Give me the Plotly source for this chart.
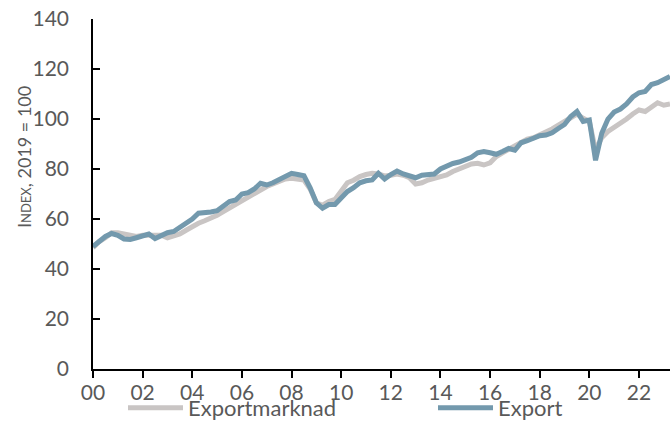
import plotly.graph_objects as go

# Quarterly data, 2000Q1 .. 2023Q2 (index, 2019 = 100)
start_year = 2000
quarters_per_year = 4

exportmarknad = [
    48.5, 51.0, 52.5, 54.5, 54.5, 54.0, 53.5, 53.0, 53.5, 53.5,
    53.5, 53.5, 52.5, 53.0, 54.0, 55.5, 57.0, 58.3, 59.3, 60.3,
    61.5, 63.0, 64.5, 65.5, 67.5, 69.0, 70.0, 71.5, 73.0, 74.0,
    75.0, 76.0, 76.3, 75.8, 75.6, 72.0, 66.5, 65.5, 67.0, 67.8,
    71.5, 74.5, 75.5, 77.0, 77.8, 78.3, 78.0, 77.2, 77.5, 78.0,
    77.5, 76.5, 74.0, 74.5, 75.6, 76.3, 77.2, 77.6, 79.0, 80.0,
    81.2, 82.0, 82.3, 81.6, 82.5, 85.0, 86.5, 88.0, 89.0, 90.5,
    92.0, 92.5, 93.5, 95.0, 96.0, 97.5, 99.0, 101.0, 102.0, 100.3,
    99.0, 87.5, 92.5, 95.0, 96.5, 98.0, 100.0, 102.0, 103.6, 103.0,
    105.0, 106.5, 105.5, 106.0,
]

export = [
    49.0, 51.0, 53.0, 54.2, 53.5, 52.0, 51.8, 52.5, 53.0, 54.0,
    52.2, 53.5, 54.5, 55.0, 56.5, 58.0, 60.0, 62.3, 62.3, 62.8,
    63.3, 65.0, 67.0, 67.6, 70.0, 70.5, 72.0, 74.3, 73.6, 74.5,
    75.8, 77.0, 78.3, 77.8, 77.3, 72.5, 66.5, 64.3, 65.8, 65.8,
    68.5, 71.0, 72.5, 74.5, 75.3, 75.6, 78.3, 76.0, 77.8, 79.2,
    78.0, 77.0, 76.5, 77.5, 78.0, 78.0, 80.0, 81.2, 82.2, 82.8,
    83.6, 84.7, 86.5, 87.0, 86.5, 85.9, 87.0, 88.2, 87.5, 90.5,
    91.3, 92.5, 93.3, 93.6, 94.5, 96.2, 97.8, 101.0, 103.0, 99.0,
    99.6, 83.5, 94.3, 100.0, 102.8, 104.0, 106.0, 108.8, 110.5, 111.0,
    113.8, 114.5, 115.8, 117.0,
]

x = [start_year + i / quarters_per_year for i in range(len(export))]

tick_years = list(range(2000, 2023, 2))
tick_labels = ["00", "02", "04", "06", "08", "10", "12", "14", "16", "18", "20", "22"]
y_ticks = [0, 20, 40, 60, 80, 100, 120, 140]

GRAY = "#c9c5c4"
BLUE = "#7399ad"
TEXT = "#595959"
FONT = "Lato, Liberation Sans, sans-serif"

# plot-area geometry (pixels)
L, R, T, B = 93, 0, 19, 60
W, H = 670, 429
pw, ph = W - L - R, H - T - B


def px_x(p):
    return (p - L) / pw


def px_y(p):
    return (H - B - p) / ph


fig = go.Figure()
fig.add_trace(go.Scatter(x=x, y=exportmarknad, mode="lines", name="Exportmarknad",
                         line=dict(color=GRAY, width=5), legend="legend"))
fig.add_trace(go.Scatter(x=x, y=export, mode="lines", name="Export",
                         line=dict(color=BLUE, width=5), legend="legend2"))

legend_common = dict(orientation="h", xanchor="left", yanchor="bottom",
                     itemwidth=55,
                     font=dict(family=FONT, size=22, color=TEXT),
                     bgcolor="rgba(0,0,0,0)", itemclick=False,
                     itemdoubleclick=False)

fig.update_layout(
    width=W, height=H,
    margin=dict(l=L, r=R, t=T, b=B),
    paper_bgcolor="white", plot_bgcolor="white",
    font=dict(family=FONT, size=21, color=TEXT),
    showlegend=True,
    legend=dict(x=px_x(123), y=px_y(429), **legend_common),
    legend2=dict(x=px_x(433), y=px_y(429), **legend_common),
    xaxis=dict(range=[2000, x[-1]], tickvals=tick_years, ticktext=tick_labels,
               showgrid=False, zeroline=False, showline=True, linecolor="black",
               linewidth=1.5, ticks="outside", ticklen=7, tickcolor="black",
               tickwidth=1.5, ticklabelstandoff=-3,
               tickfont=dict(family=FONT, size=21, color=TEXT)),
    yaxis=dict(range=[0, 140], tickvals=y_ticks, showgrid=False, zeroline=False,
               showline=True, linecolor="black", linewidth=1.5, ticks="inside",
               ticklen=7, tickcolor="black", tickwidth=1.5, ticklabelstandoff=18,
               tickfont=dict(family=FONT, size=21, color=TEXT)),
    annotations=[dict(
        text="I<span style='font-size:13px'>NDEX</span>, 2019 = 100",
        xref="paper", yref="paper", x=px_x(24), y=px_y(157),
        xanchor="center", yanchor="middle", textangle=-90, showarrow=False,
        font=dict(family=FONT, size=18, color=TEXT))],
)

fig.write_html("out.html")
